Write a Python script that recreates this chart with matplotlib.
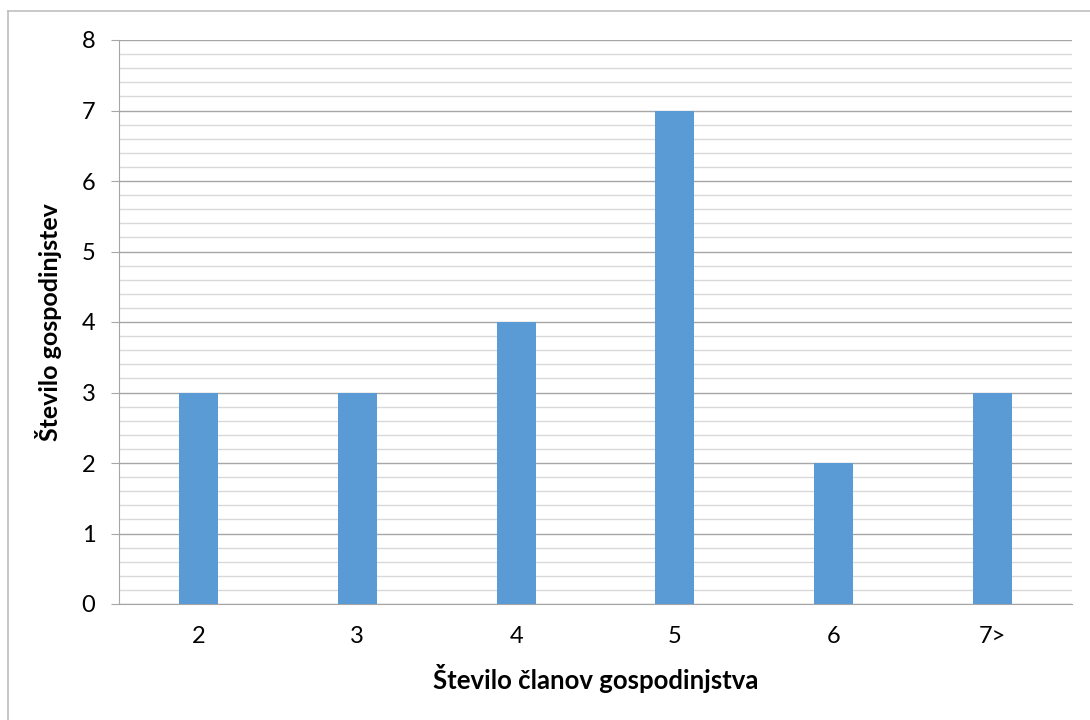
import matplotlib
matplotlib.use("Agg")
import matplotlib.pyplot as plt
from matplotlib.lines import Line2D
from matplotlib.ticker import MultipleLocator

categories = ["2", "3", "4", "5", "6", "7>"]
households = [3, 3, 4, 7, 2, 3]

plt.rcParams['font.family'] = ['Lato', 'DejaVu Sans']

fig = plt.figure(figsize=(10.9, 7.2), dpi=100)
# chart border (only left/top edges fall inside the picture)
bx, by = 7.5 / 1090, 1 - 10.5 / 720
fig.add_artist(Line2D([bx, bx], [0, by], transform=fig.transFigure, color="#bfbfbf", linewidth=1.2))
fig.add_artist(Line2D([bx, 1], [by, by], transform=fig.transFigure, color="#bfbfbf", linewidth=1.2))

ax = fig.add_axes([119 / 1090, (720 - 604) / 720, (1072 - 119) / 1090, (604 - 40) / 720])

x = range(len(categories))
ax.bar(x, households, width=0.245, color="#5b9bd5", zorder=3)

ax.set_xlim(-0.5, len(categories) - 0.5)
ax.set_ylim(0, 8)
ax.set_xticks(list(x))
ax.set_xticklabels(categories)
ax.yaxis.set_major_locator(MultipleLocator(1))
ax.yaxis.set_minor_locator(MultipleLocator(0.2))

ax.grid(which="major", axis="y", color="#a6a6a6", linewidth=1.0, zorder=0)
ax.grid(which="minor", axis="y", color="#d9d9d9", linewidth=1.0, zorder=0)

for side in ["top", "right"]:
    ax.spines[side].set_visible(False)
ax.spines["left"].set_color("#a6a6a6")
ax.spines["bottom"].set_color("#a6a6a6")

ax.tick_params(axis="y", which="major", length=6, color="#a6a6a6", labelsize=17, pad=11)
ax.tick_params(axis="y", which="minor", length=0)
ax.tick_params(axis="x", length=0, labelsize=17, pad=16)

ax.set_xlabel("Število članov gospodinjstva", fontsize=18.5, fontweight="bold", labelpad=12)
ax.set_ylabel("Število gospodinjstev", fontsize=18, fontweight="bold", labelpad=14)

fig.savefig("out.png", dpi=100)
